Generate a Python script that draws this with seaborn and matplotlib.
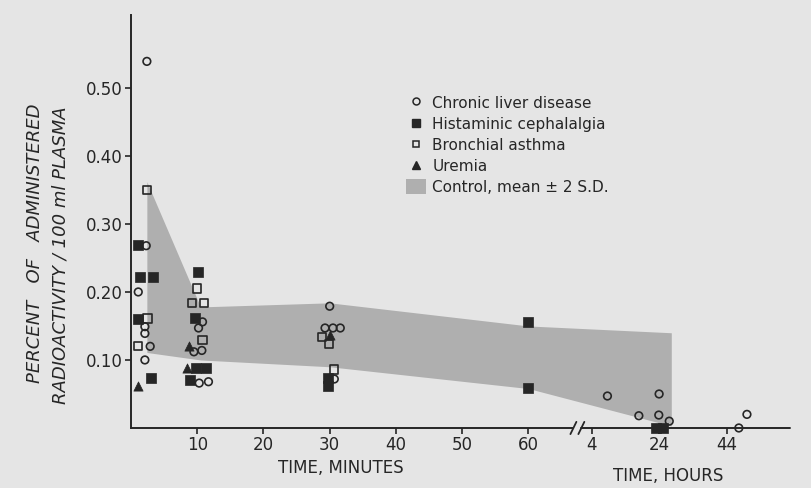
import matplotlib
matplotlib.use("Agg")
import matplotlib.pyplot as plt
from matplotlib.lines import Line2D
from matplotlib.markers import MarkerStyle
from matplotlib.patches import Patch
import pandas as pd
import seaborn as sns

# Plasma radioactivity (% of administered dose / 100 ml).
# Early samples are in minutes, late samples in hours (broken time axis).
liver_min = [2.4, 2.3, 1.1, 2.1, 2.1, 2.9, 2.1, 10.8, 10.2, 9.5, 10.7, 10.3, 11.7, 30.0, 29.3, 30.5, 31.6, 30.7]
liver_min_val = [0.539, 0.268, 0.200, 0.149, 0.139, 0.120, 0.100, 0.156, 0.147, 0.112, 0.114, 0.066, 0.068,
                 0.179, 0.147, 0.147, 0.147, 0.072]
liver_hr = [8.7, 18.0, 24.0, 23.9, 27.0, 47.6, 50.0]
liver_hr_val = [0.047, 0.018, 0.050, 0.019, 0.010, 0.0, 0.020]

cephalalgia_min = [1.1, 1.4, 3.4, 1.0, 3.0, 10.1, 9.7, 9.8, 11.3, 8.9, 29.8, 29.8, 60.0, 60.0]
cephalalgia_min_val = [0.269, 0.222, 0.222, 0.160, 0.073, 0.230, 0.162, 0.088, 0.088, 0.070, 0.074, 0.061,
                       0.156, 0.059]
cephalalgia_hr = [23.0, 25.2]
cephalalgia_hr_val = [0.0, 0.0]

asthma_min = [2.4, 2.5, 1.1, 10.0, 9.2, 11.0, 10.8, 28.8, 29.95, 30.7]
asthma_min_val = [0.350, 0.161, 0.120, 0.205, 0.184, 0.184, 0.129, 0.134, 0.124, 0.086]

uremia_min = [1.1, 8.7, 8.4, 30.1]
uremia_min_val = [0.062, 0.120, 0.088, 0.137]

# control band, mean +/- 2 S.D.
band_min = [2.4, 10.5, 30.0, 60.0]
band_min_hi = [0.362, 0.178, 0.184, 0.150]
band_min_lo = [0.111, 0.100, 0.090, 0.058]
band_hr = [27.6]
band_hr_hi = [0.140]
band_hr_lo = [0.003]

min_ticks = [10, 20, 30, 40, 50, 60]
hr_ticks = [4, 24, 44]
y_ticks = [0.10, 0.20, 0.30, 0.40, 0.50]

labels = {
    "liver": "Chronic liver disease",
    "cephalalgia": "Histaminic cephalalgia",
    "asthma": "Bronchial asthma",
    "uremia": "Uremia",
}

# broken axis: hours start right after the break
BREAK_POS = 67.4
HOUR_ORIGIN = 67.5
HOUR_STEP = 0.51

INK = "#262626"
PAPER = "#e5e5e5"
BAND = "#afafaf"


def to_axis(t, unit):
    if unit == "min":
        return t
    return HOUR_ORIGIN + HOUR_STEP * t


def build_frame():
    rows = []
    groups = [
        ("liver", liver_min, liver_min_val, liver_hr, liver_hr_val),
        ("cephalalgia", cephalalgia_min, cephalalgia_min_val, cephalalgia_hr, cephalalgia_hr_val),
        ("asthma", asthma_min, asthma_min_val, [], []),
        ("uremia", uremia_min, uremia_min_val, [], []),
    ]
    for name, tm, vm, th, vh in groups:
        for t, v in zip(tm, vm):
            rows.append({"group": name, "pos": to_axis(t, "min"), "value": v})
        for t, v in zip(th, vh):
            rows.append({"group": name, "pos": to_axis(t, "hr"), "value": v})
    return pd.DataFrame(rows)


sns.set_theme(style="white")
plt.rcParams["font.family"] = ["DejaVu Sans"]
plt.rcParams["text.color"] = INK

df = build_frame()

fig = plt.figure(figsize=(8.12, 4.88), dpi=100, facecolor=PAPER)
ax = fig.add_axes([0.1613, 0.123, 0.8116, 0.846], facecolor=PAPER)

band_x = [to_axis(t, "min") for t in band_min] + [to_axis(t, "hr") for t in band_hr]
ax.fill_between(band_x, band_min_lo + band_hr_lo, band_min_hi + band_hr_hi,
                color=BAND, linewidth=0, zorder=1)

open_circle = MarkerStyle("o", fillstyle="none")
open_square = MarkerStyle("s", fillstyle="none")
styles = {
    "liver": dict(marker=open_circle, s=30, linewidth=1.2),
    "cephalalgia": dict(marker="s", s=44, edgecolor=INK, linewidth=0.5),
    "asthma": dict(marker=open_square, s=34, linewidth=1.2),
    "uremia": dict(marker="^", s=44, edgecolor=INK, linewidth=0.5),
}
for name, kw in styles.items():
    sub = df[df["group"] == name]
    sns.scatterplot(data=sub, x="pos", y="value", color=INK, ax=ax, clip_on=False, zorder=3,
                    legend=False, **kw)

ax.set_xlim(0, 99.5)
ax.set_ylim(0, 0.607)

# axes and the break in the time axis
sns.despine(ax=ax)
ax.spines["bottom"].set_visible(False)
ax.spines["left"].set_linewidth(1.4)
ax.spines["left"].set_color(INK)
xt = ax.get_xaxis_transform()
ax.plot([0, BREAK_POS - 0.6], [0, 0], color=INK, lw=1.4, transform=xt, clip_on=False, zorder=2)
ax.plot([BREAK_POS + 0.6, 99.5], [0, 0], color=INK, lw=1.4, transform=xt, clip_on=False, zorder=2)
for dx in (-0.6, 0.6):
    ax.plot([BREAK_POS + dx - 0.45, BREAK_POS + dx + 0.45], [-0.009, 0.009], color=INK, lw=1.3,
            clip_on=False, zorder=2)

xticks = [to_axis(t, "min") for t in min_ticks] + [to_axis(t, "hr") for t in hr_ticks]
ax.set_xticks(xticks)
ax.set_xticklabels([str(t) for t in min_ticks + hr_ticks])
ax.set_yticks(y_ticks)
ax.set_yticklabels([f"{v:.2f}" for v in y_ticks])
ax.tick_params(axis="both", direction="out", length=4, width=1.2, color=INK, labelcolor=INK,
               labelsize=12, pad=2, bottom=True, left=True)
ax.set_xlabel("")
ax.set_ylabel("")

fig.text(0.42, 0.041, "TIME, MINUTES", ha="center", va="center", fontsize=12, color=INK)
fig.text(0.823, 0.025, "TIME, HOURS", ha="center", va="center", fontsize=12, color=INK)
fig.text(0.043, 0.502, "PERCENT   OF   ADMINISTERED", rotation=90, ha="center", va="center",
         fontsize=13, style="italic", color=INK)
fig.text(0.074, 0.477, "RADIOACTIVITY / 100 ml PLASMA", rotation=90, ha="center", va="center",
         fontsize=13, style="italic", color=INK)

handles = [
    Line2D([], [], ls="", marker="o", markersize=5, markerfacecolor="none", markeredgecolor=INK,
           markeredgewidth=1.1),
    Line2D([], [], ls="", marker="s", markersize=6, color=INK),
    Line2D([], [], ls="", marker="s", markersize=5, markerfacecolor="none", markeredgecolor=INK,
           markeredgewidth=1.1),
    Line2D([], [], ls="", marker="^", markersize=6, color=INK),
    Patch(facecolor=BAND, edgecolor="none"),
]
legend_labels = [labels[k] for k in ["liver", "cephalalgia", "asthma", "uremia"]] + ["Control, mean \u00b1 2 S.D."]
ax.legend(handles, legend_labels, loc="upper left", bbox_to_anchor=(0.418, 0.806), frameon=False,
          fontsize=11, handlelength=1.3, handleheight=1.1, handletextpad=0.4, labelspacing=0.36,
          borderpad=0, borderaxespad=0)

fig.savefig("out.png", dpi=100, facecolor=PAPER)
